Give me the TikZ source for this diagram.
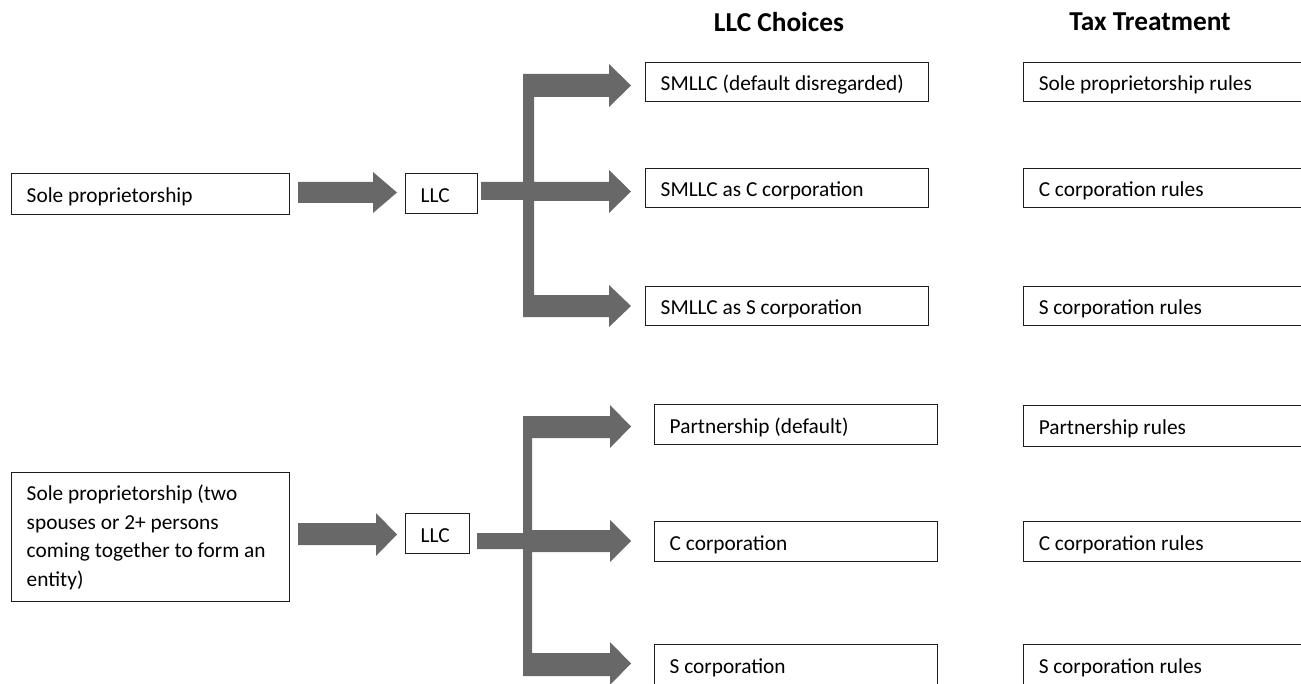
\documentclass[tikz,border=0pt]{standalone}
\usepackage{fontspec}
\setmainfont{Carlito}
\definecolor{arrowgray}{RGB}{104,104,104}
\definecolor{boxline}{RGB}{30,30,30}
\begin{document}
\begin{tikzpicture}[x=0.75pt,y=-0.75pt]
\tikzset{
  box/.style={draw=boxline, line width=1.1pt, inner xsep=11.25pt, inner ysep=0pt,
    align=flush left, anchor=north west, font=\fontsize{16}{21.4}\selectfont},
  sbox/.style={box, text height=12.75pt, text depth=0pt},
  blk/.style={fill=arrowgray, draw=none},
  hdr/.style={font=\bfseries\fontsize{20.5}{24}\selectfont}
}
\useasboundingbox (0,0) rectangle (1301,684);
\clip (0,0) rectangle (1301,684);

% headers
\node[hdr] (h1) at (779,22) {LLC Choices};
\node[hdr] (h2) at (1150,22) {Tax Treatment};

% left boxes
\node[sbox, text width=186pt, minimum height=30.75pt] (sp1) at (11,173) {Sole proprietorship};
\node[box, text width=186pt, minimum height=96.75pt] (sp2) at (11,472)
  {Sole proprietorship (two\\spouses or 2+ persons\\coming together to form an\\entity)};

% LLC boxes
\node[sbox, text width=31.5pt, minimum height=30pt] (llc1) at (405,173) {LLC};
\node[sbox, text width=25.5pt, minimum height=30pt] (llc2) at (405,513) {LLC};

% LLC choices
\node[sbox, text width=189.75pt, minimum height=29.25pt] (c1) at (645,62) {SMLLC (default disregarded)};
\node[sbox, text width=189.75pt, minimum height=29.25pt] (c2) at (645,168) {SMLLC as C corporation};
\node[sbox, text width=189.75pt, minimum height=29.25pt] (c3) at (645,286) {SMLLC as S corporation};
\node[sbox, text width=189.75pt, minimum height=30pt] (c4) at (654,404) {Partnership (default)};
\node[sbox, text width=189.75pt, minimum height=30pt] (c5) at (654,521) {C corporation};
\node[sbox, text width=189.75pt, minimum height=30pt] (c6) at (654,644) {S corporation};

% tax treatment
\node[sbox, text width=202.5pt, minimum height=29.25pt] (t1) at (1023,62) {Sole proprietorship rules};
\node[sbox, text width=202.5pt, minimum height=29.25pt] (t2) at (1023,168) {C corporation rules};
\node[sbox, text width=202.5pt, minimum height=29.25pt] (t3) at (1023,286) {S corporation rules};
\node[sbox, text width=202.5pt, minimum height=30.75pt] (t4) at (1023,405) {Partnership rules};
\node[sbox, text width=202.5pt, minimum height=30pt] (t5) at (1023,521) {C corporation rules};
\node[sbox, text width=202.5pt, minimum height=30pt] (t6) at (1023,644) {S corporation rules};

% block arrows, top section
\fill[blk] (298,182) -- (373,182) -- (373,172) -- (397,192.5) -- (373,213) -- (373,203) -- (298,203) -- cycle;
\fill[blk] (523,74) -- (609,74) -- (609,64) -- (631,85.5) -- (609,107) -- (609,97) -- (534,97)
  -- (534,182) -- (609,182) -- (609,170) -- (631,191.5) -- (609,213) -- (609,201) -- (534,201)
  -- (534,295) -- (609,295) -- (609,285) -- (631,306) -- (609,327) -- (609,317) -- (523,317)
  -- (523,200) -- (481,200) -- (481,182) -- (523,182) -- cycle;

% block arrows, bottom section
\fill[blk] (298,523) -- (376,523) -- (376,513) -- (397,534.5) -- (376,556) -- (376,545) -- (298,545) -- cycle;
\fill[blk] (523,416) -- (610,416) -- (610,405) -- (631,426.5) -- (610,448) -- (610,438) -- (532,438)
  -- (532,530) -- (610,530) -- (610,520) -- (631,541) -- (610,562) -- (610,552) -- (532,552)
  -- (532,653) -- (610,653) -- (610,642) -- (631,663.5) -- (610,685) -- (610,676) -- (523,676)
  -- (523,549) -- (477,549) -- (477,533) -- (523,533) -- cycle;
\end{tikzpicture}
\end{document}
